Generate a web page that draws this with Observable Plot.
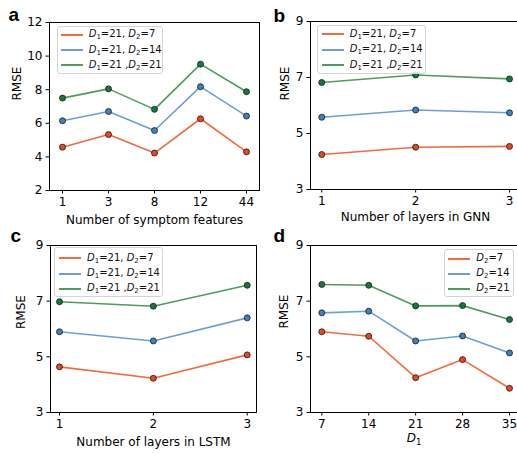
<!DOCTYPE html>
<html><head><meta charset="utf-8">
<script src="https://cdn.jsdelivr.net/npm/d3@7"></script>
<script src="https://cdn.jsdelivr.net/npm/@observablehq/plot@0.6"></script>
<style>
html,body{margin:0;padding:0;background:#fff;overflow:hidden;}
#root{position:relative;width:517px;height:453px;overflow:hidden;font-family:"DejaVu Sans",sans-serif;background:#fff;}
.panel{position:absolute;}
.legend{position:absolute;border:1px solid #d4d4d4;border-radius:3px;background:rgba(255,255,255,0.85);box-sizing:border-box;}
.swatch{position:absolute;height:2px;}
.lt{position:absolute;font-size:10px;line-height:10px;white-space:nowrap;color:#111;}
.lt i,.xl i{font-style:italic}
.lt sub{font-size:7px;vertical-align:-2px;line-height:0}
.xl{position:absolute;font-size:12px;line-height:12px;white-space:nowrap;color:#000;text-align:center;}
.xl sub{font-size:8.5px;vertical-align:-2.5px;line-height:0}
</style></head><body><div id="root"></div>
<script>
// ---- data ----
const featureCounts = ["1", "3", "8", "12", "44"];
const rmseA_D2_7  = [4.58, 5.33, 4.23, 6.27, 4.30];
const rmseA_D2_14 = [6.15, 6.70, 5.57, 8.18, 6.43];
const rmseA_D2_21 = [7.50, 8.05, 6.83, 9.52, 7.88];

const gnnLayers = [1, 2, 3];
const rmseB_D2_7  = [4.25, 4.51, 4.54];
const rmseB_D2_14 = [5.58, 5.84, 5.74];
const rmseB_D2_21 = [6.82, 7.09, 6.95];

const lstmLayers = [1, 2, 3];
const rmseC_D2_7  = [4.64, 4.23, 5.07];
const rmseC_D2_14 = [5.90, 5.57, 6.40];
const rmseC_D2_21 = [6.98, 6.82, 7.57];

const d1Values = [7, 14, 21, 28, 35];
const rmseD_D2_7  = [5.90, 5.74, 4.25, 4.90, 3.87];
const rmseD_D2_14 = [6.58, 6.64, 5.57, 5.75, 5.14];
const rmseD_D2_21 = [7.60, 7.57, 6.83, 6.84, 6.34];

const yTicksA = [2, 4, 6, 8, 10, 12];
const yTicksBCD = [3, 5, 7, 9];
const legendLabelsABC = ["D1=21, D2=7", "D1=21, D2=14", "D1=21 ,D2=21"];
const legendLabelsD = ["D2=7", "D2=14", "D2=21"];
const lineColors = ["#f26b3d", "#6e9dd9", "#509b5e"];
const dotColors = ["#e9451e", "#3d7fc8", "#147a3b"];

const root = document.getElementById("root");

function panel(cfg) {
  const marks = [
    Plot.frame({stroke: "#000", strokeWidth: 1}),
    Plot.axisX({...(cfg.xTicks ? {ticks: cfg.xTicks} : {}), tickSize: 3.5, tickPadding: 3.5, label: null, tickFormat: d => String(d), fontSize: 12}),
    Plot.axisY({ticks: cfg.yTicks, tickSize: 3.5, tickPadding: 3.5, label: null, tickFormat: d => String(d), fontSize: 12})
  ];
  cfg.series.forEach((vals, si) => {
    const rows = cfg.xs.map((x, i) => ({x, y: vals[i]}));
    marks.push(Plot.line(rows, {x: "x", y: "y", stroke: lineColors[si], strokeWidth: 1.6}));
    marks.push(Plot.dot(rows, {x: "x", y: "y", fill: dotColors[si], stroke: "#1a1a1a", strokeWidth: 0.8, r: 3}));
  });
  if (cfg.xLabel) marks.push(Plot.text([cfg.xLabel], {text: d => d, frameAnchor: "bottom", lineAnchor: "bottom", dy: cfg.xLabelDy, fontSize: 12, fill: "#000"}));
  marks.push(Plot.text(["RMSE"], {text: d => d, frameAnchor: "left", rotate: -90, dx: cfg.yLabelDx, dy: cfg.yLabelDy, fontSize: 12, fill: "#000"}));
  marks.push(Plot.text([cfg.letter], {text: d => d, frameAnchor: "top-left", textAnchor: "start", lineAnchor: "bottom", dx: cfg.letterDx, dy: cfg.letterDy, fontSize: 19, fontWeight: "bold", fontFamily: "Liberation Sans, Arial, sans-serif", fill: "#000"}));
  const svg = Plot.plot({
    width: cfg.width, height: cfg.height,
    marginLeft: cfg.ml, marginRight: cfg.mr, marginTop: cfg.mt, marginBottom: cfg.mb,
    style: {fontFamily: "DejaVu Sans", fontSize: "12px", color: "#000", background: "transparent", overflow: "visible", maxWidth: "none"},
    x: cfg.x,
    y: {domain: cfg.yDomain},
    marks
  });
  const wrap = document.createElement("div");
  wrap.className = "panel";
  wrap.style.left = cfg.left + "px";
  wrap.style.top = cfg.top + "px";
  wrap.appendChild(svg);
  root.appendChild(wrap);
}

function toHtml(label) {
  return label.replace(/D(\d)/g, "<i>D</i><sub>$1</sub>");
}

function legend(box, rowYs, lineX0, lineX1, textX, labels) {
  const div = document.createElement("div");
  div.className = "legend";
  Object.assign(div.style, {left: box[0] + "px", top: box[1] + "px", width: box[2] + "px", height: box[3] + "px"});
  labels.forEach((lab, i) => {
    const sw = document.createElement("div");
    sw.className = "swatch";
    Object.assign(sw.style, {left: lineX0 + "px", width: (lineX1 - lineX0) + "px", top: (rowYs[i] - 1) + "px", background: lineColors[i]});
    div.appendChild(sw);
    const t = document.createElement("div");
    t.className = "lt";
    Object.assign(t.style, {left: textX + "px", top: (rowYs[i] - 5.5) + "px"});
    t.innerHTML = toHtml(lab);
    div.appendChild(t);
  });
  root.appendChild(div);
}

// a
panel({left: 0, top: 0, width: 260, height: 226, ml: 49, mr: 1, mt: 22, mb: 36,
  x: {type: "point", domain: featureCounts, padding: 0.25}, xs: featureCounts,
  yDomain: [2, 12], yTicks: yTicksA,
  series: [rmseA_D2_7, rmseA_D2_14, rmseA_D2_21],
  xLabel: "Number of symptom features", xLabelDy: 33.5,
  yLabelDx: -32.5, yLabelDy: -6, letter: "a", letterDx: -41, letterDy: -1.3});
// b
panel({left: 258, top: 0, width: 262, height: 226, ml: 52, mr: 0, mt: 21, mb: 37,
  x: {type: "linear", domain: [0.88, 3.117]}, xs: gnnLayers, xTicks: gnnLayers,
  yDomain: [3, 9], yTicks: yTicksBCD,
  series: [rmseB_D2_7, rmseB_D2_14, rmseB_D2_21],
  xLabel: "Number of layers in GNN", xLabelDy: 31.5,
  yLabelDx: -25, yLabelDy: -5, letter: "b", letterDx: -37, letterDy: 0.7});
// c
panel({left: 0, top: 226, width: 260, height: 227, ml: 50, mr: 4, mt: 19, mb: 41,
  x: {type: "linear", domain: [0.904, 3.099]}, xs: lstmLayers, xTicks: lstmLayers,
  yDomain: [3, 9], yTicks: yTicksBCD,
  series: [rmseC_D2_7, rmseC_D2_14, rmseC_D2_21],
  xLabel: "Number of layers in LSTM", xLabelDy: 33.5,
  yLabelDx: -29, yLabelDy: 0, letter: "c", letterDx: -40, letterDy: -4});
// d
panel({left: 258, top: 226, width: 262, height: 227, ml: 52, mr: 0, mt: 19, mb: 41,
  x: {type: "linear", domain: [5.314, 36.64]}, xs: d1Values, xTicks: d1Values,
  yDomain: [3, 9], yTicks: yTicksBCD,
  series: [rmseD_D2_7, rmseD_D2_14, rmseD_D2_21],
  xLabel: null,
  yLabelDx: -26, yLabelDy: -0.5, letter: "d", letterDx: -37, letterDy: -4});

// x label of d (italic D with subscript)
const xl = document.createElement("div");
xl.className = "xl";
Object.assign(xl.style, {left: "364px", width: "100px", top: "431.5px"});
xl.innerHTML = toHtml("D1");
root.appendChild(xl);

legend([56.7, 26, 106.3, 48], [7.7, 23, 38.3], 3.3, 25, 31, legendLabelsABC);
legend([317.3, 24.7, 109, 49.3], [8.6, 24.3, 39.6], 4, 25.7, 31.4, legendLabelsABC);
legend([54.3, 246.7, 109, 50.3], [10.6, 26, 41.3], 4, 25.7, 31.7, legendLabelsABC);
legend([443.7, 249.3, 70, 47.7], [8.4, 23.4, 38.7], 3.6, 25.3, 31.6, legendLabelsD);
</script></body></html>
